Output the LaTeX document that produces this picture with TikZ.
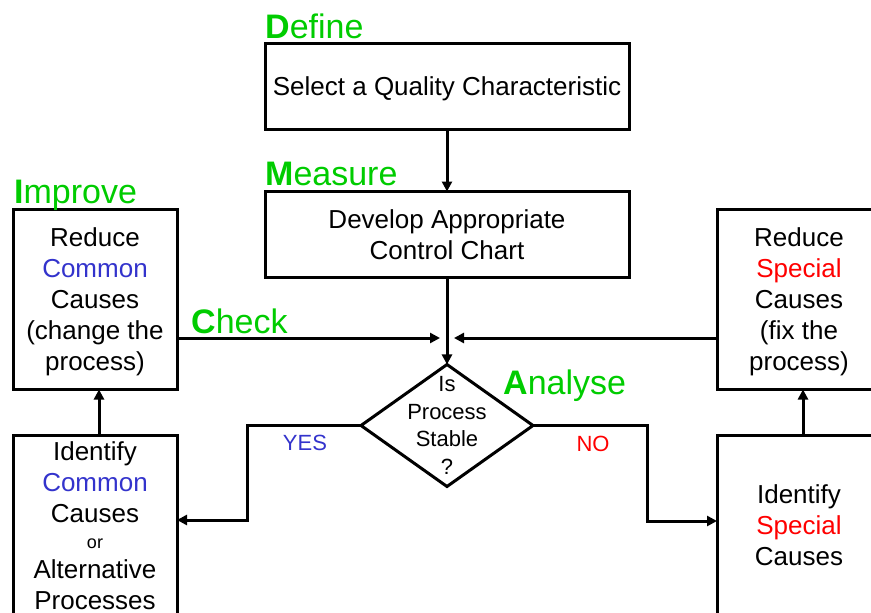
\documentclass[tikz,border=0pt]{standalone}
\usepackage{fontspec}
\setmainfont{Liberation Sans}
\usetikzlibrary{positioning,arrows.meta,shapes.geometric}
\definecolor{cgreen}{HTML}{00CC00}
\definecolor{cblue}{HTML}{3333CC}
\definecolor{cred}{HTML}{FF0000}
\tikzset{
  block/.style={draw, line width=3pt, inner sep=0pt, outer sep=0pt, align=center, text depth=0pt, font=\fontsize{26}{31}\selectfont},
  wide/.style={block, minimum width=364pt, minimum height=86pt},
  tall/.style={block, minimum width=164pt, minimum height=180pt},
  decision/.style={draw, diamond, line width=3pt, inner sep=0pt, outer sep=0pt, minimum width=172pt, minimum height=122pt},
  sig/.style={-{Triangle[length=10pt,width=10pt]}, line width=3pt},
  phase/.style={text=cgreen, inner sep=0pt, anchor=base west, font=\fontsize{34}{40}\selectfont},
  answer/.style={inner sep=0pt, font=\fontsize{22}{26}\selectfont},
}

\begin{document}
\begin{tikzpicture}[x=1pt, y=-1pt]
  \useasboundingbox (0,0) rectangle (871,613);
  % main column
  \node[wide] (define) at (447,86.5) {Select a Quality Characteristic};
  \node[wide, below=62pt of define] (measure) {Develop Appropriate\\Control Chart};
  \node[decision, below=87pt of measure] (stable) {};
  \node[answer, align=center, font=\fontsize{22}{27.5}\selectfont] (stabletxt) at (stable) {Is\\Process\\Stable\\?};
  % side boxes
  \node[tall] (improve) at (95,299.5) {Reduce\\\textcolor{cblue}{Common}\\Causes\\(change the\\process)};
  \node[tall, below=46pt of improve] (idcommon) {Identify\\\textcolor{cblue}{Common}\\Causes\\[-5pt]{\fontsize{18}{22}\selectfont or}\\[-1pt]Alternative\\Processes};
  \node[tall] (reduce) at (799,299.5) {Reduce\\\textcolor{cred}{Special}\\Causes\\(fix the\\process)};
  \node[tall, below=46pt of reduce] (idspecial) {Identify\\\textcolor{cred}{Special}\\Causes};
  % phase labels
  \node[phase] (dlabel) at (265,38) {\textbf{D}efine};
  \node[phase] (mlabel) at (265,185) {\textbf{M}easure};
  \node[phase] (ilabel) at (14,203) {\textbf{I}mprove};
  \node[phase] (clabel) at (191,333) {\textbf{C}heck};
  \node[phase] (alabel) at (503,394) {\textbf{A}nalyse};
  \node[answer, text=cblue] (yes) at (305,443) {YES};
  \node[answer, text=cred] (no) at (593,444) {NO};
  % connectors
  \coordinate (inl) at (440,338);
  \coordinate (inr) at (454,338);
  \coordinate (yesbend) at (247,520);
  \coordinate (nobend) at (647,521);
  \draw[sig] (define) -- (measure);
  \draw[sig] (measure) -- (stable);
  \draw[sig] (improve.east |- inl) -- (inl);
  \draw[sig] (reduce.west |- inr) -- (inr);
  \draw[sig] (stable.west) -| (yesbend) -- (idcommon.east |- yesbend);
  \draw[sig] (stable.east) -| (nobend) -- (idspecial.west |- nobend);
  \draw[sig] ([xshift=4pt]idcommon.north) -- ([xshift=4pt]improve.south);
  \draw[sig] ([xshift=4pt]idspecial.north) -- ([xshift=4pt]reduce.south);
\end{tikzpicture}
\end{document}
